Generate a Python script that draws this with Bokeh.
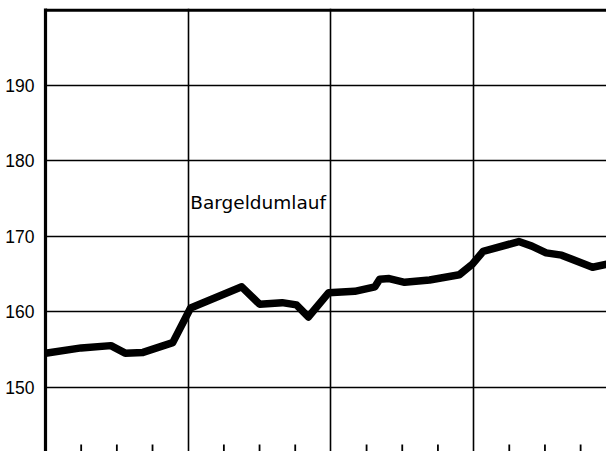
from bokeh.plotting import figure
from bokeh.models import FixedTicker, Range1d, Span, Label
from bokeh.embed import file_html
from bokeh.resources import INLINE

# Data (month index from start of first year, value)
months = [0, 3, 5.5, 6.7, 8.2, 10.7, 12.2, 16.5, 18, 19.9, 21.1, 22.1, 23.8,
          26, 27.7, 28.1, 28.9, 30.2, 32.3, 34.8, 35.9, 36.8, 39.8, 40.9,
          42.1, 43.4, 46, 47.8]
values = [154.5, 155.2, 155.5, 154.5, 154.6, 155.9, 160.5, 163.3, 161.0,
          161.2, 160.9, 159.3, 162.5, 162.7, 163.3, 164.3, 164.4, 163.9,
          164.2, 164.9, 166.3, 168.0, 169.3, 168.7, 167.8, 167.5, 165.9, 166.5]
y_ticks = [150, 160, 170, 180, 190]
year_lines = [12, 24, 36]
quarter_ticks = [3, 6, 9, 15, 18, 21, 27, 30, 33, 39, 42, 45]
series_label = "Bargeldumlauf"

W, H = 606, 451
LEFT = 45
TOP = 8
px_per_month = (187.7 - LEFT) / 12
x0 = 0
x1 = (W - LEFT) / px_per_month
px_per_unit = 7.54
ytop = 200 + 1.6 / px_per_unit
ybot = ytop - (H - TOP) / px_per_unit
tick_top = 190 - (443.3 - 84.3) / px_per_unit

p = figure(width=W, height=H, output_backend="svg", toolbar_location=None,
           x_range=Range1d(x0, x1), y_range=Range1d(ybot, ytop),
           x_axis_location=None,
           min_border_left=LEFT, min_border_top=TOP, min_border_right=0,
           min_border_bottom=0)
p.outline_line_color = None
p.background_fill_color = "white"
p.border_fill_color = "white"

# grids
p.xgrid.ticker = FixedTicker(ticks=year_lines)
p.xgrid.grid_line_color = "black"
p.xgrid.grid_line_width = 1.6
p.ygrid.ticker = FixedTicker(ticks=y_ticks)
p.ygrid.grid_line_color = "black"
p.ygrid.grid_line_width = 1.4

# left axis
ax = p.yaxis[0]
ax.ticker = FixedTicker(ticks=y_ticks)
ax.major_tick_out = 0
ax.major_tick_in = 0
ax.minor_tick_line_color = None
ax.axis_line_width = 3.2
ax.axis_line_color = "black"
ax.major_label_text_font = "Liberation Sans"
ax.major_label_text_font_size = "17.5px"
ax.major_label_text_color = "black"
ax.major_label_standoff = 11

# top border
p.add_layout(Span(location=200, dimension="width", line_color="black", line_width=3.2))

# quarter ticks at the bottom, pointing up
p.segment(x0=quarter_ticks, x1=quarter_ticks,
          y0=[ybot] * len(quarter_ticks), y1=[tick_top] * len(quarter_ticks),
          line_color="black", line_width=1.8)

# series
p.line(months, values, line_width=7.5, line_color="black", line_join="round", line_cap="round")

p.add_layout(Label(x=12, y=190 - (201.7 - 84.3) / px_per_unit, text=series_label, x_offset=2,
                   text_font="DejaVu Sans", text_font_size="18.5px",
                   text_color="black", text_baseline="alphabetic"))

open("out.html", "w").write(file_html(p, INLINE))
